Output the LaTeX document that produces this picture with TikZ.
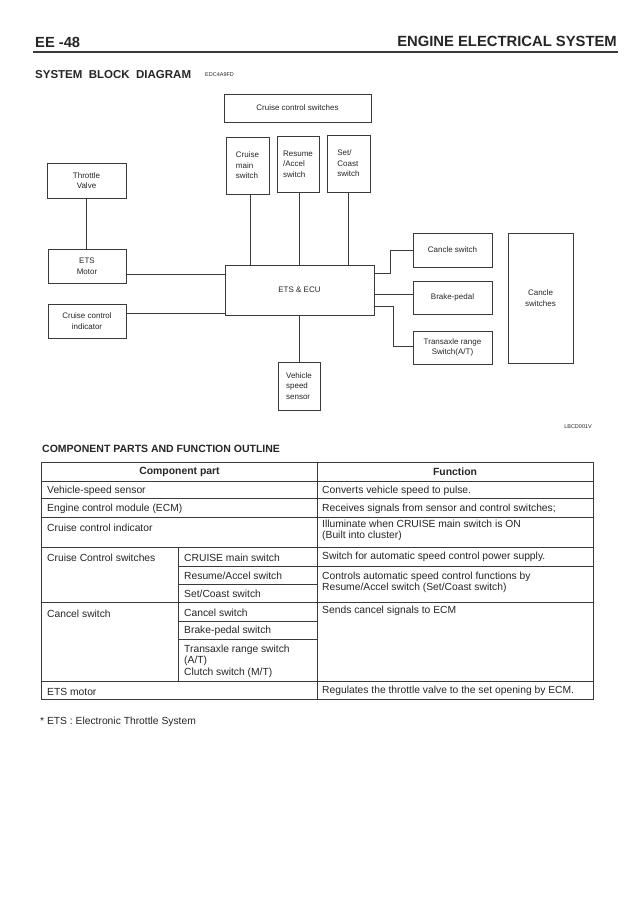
\documentclass[tikz,border=0pt]{standalone}
\usepackage{fontspec}
\setmainfont{Liberation Sans}
\usetikzlibrary{calc}
\definecolor{ink}{HTML}{262626}
\definecolor{rule}{HTML}{3A3A3A}
\tikzset{
  box/.style={draw=rule, line width=0.9pt, inner sep=0pt, align=center, text=ink,
    font={\fontsize{8}{10.5}\selectfont}},
  wire/.style={draw=rule, line width=0.9pt},
  tline/.style={draw=rule, line width=0.8pt},
  ttext/.style={anchor=west, inner sep=0pt, align=left, text=ink,
    font={\fontsize{10.3}{11.5}\selectfont}},
  thead/.style={inner sep=0pt, text=ink, font={\fontsize{10.4}{12}\selectfont\bfseries}},
}
\begin{document}
\begin{tikzpicture}[x=1pt, y=-1pt]
\useasboundingbox[fill=white] (0,0) rectangle (638,902);

% ---------- header ----------
\node[anchor=base west, inner sep=0pt, text=ink, font={\fontsize{14.7}{16}\selectfont\bfseries}] (pg) at (35,47) {EE -48};
\node[anchor=base east, inner sep=0pt, text=ink, font={\fontsize{14.8}{16}\selectfont\bfseries}] (sec) at (617,46) {ENGINE ELECTRICAL SYSTEM};
\draw[rule, line width=2pt] (33,52) -- (618,52);
\node[anchor=base west, inner sep=0pt, text=ink, font={\fontsize{11.5}{14}\selectfont\bfseries}] (sbd) at (35,78) {SYSTEM\ \ BLOCK\ \ DIAGRAM};
\node[anchor=base west, inner sep=0pt, text=ink, font={\fontsize{5.5}{6}\selectfont}] (code) at (205,76) {EDC4A9FD};

% ---------- block diagram ----------
\node[box, minimum width=147pt, minimum height=28pt] (ccs) at (297.5,108) {Cruise control switches};
\node[box, minimum width=43pt, minimum height=57pt, align=left] (cms) at (247.5,165.5) {Cruise\\main\\switch};
\node[box, minimum width=42pt, minimum height=56pt, align=left] (ras) at (298,164) {Resume\\/Accel\\switch};
\node[box, minimum width=43pt, minimum height=57pt, align=left] (scs) at (348.5,163.5) {Set/\\Coast\\switch};
\node[box, minimum width=79pt, minimum height=35pt] (tv) at (86.5,180.5) {Throttle\\Valve};
\node[box, minimum width=78pt, minimum height=34pt] (motor) at (87,266) {ETS\\Motor};
\node[box, minimum width=78pt, minimum height=34pt] (ind) at (87,321) {Cruise control\\indicator};
\node[box, minimum width=149pt, minimum height=50pt] (ecu) at (299.5,290) {ETS \& ECU};
\node[box, minimum width=42pt, minimum height=48pt, align=left] (vss) at (299,386) {Vehicle\\speed\\sensor};
\node[box, minimum width=79pt, minimum height=34pt] (cs) at (452.5,250) {Cancle switch};
\node[box, minimum width=79pt, minimum height=33pt] (bp) at (452.5,297.5) {Brake-pedal};
\node[box, minimum width=79pt, minimum height=33pt] (tr) at (452.5,347.5) {Transaxle range\\Switch(A/T)};
\node[box, minimum width=65pt, minimum height=130pt] (big) at (540.5,298) {Cancle\\switches};
\node[anchor=base east, inner sep=0pt, text=ink, font={\fontsize{5.5}{6}\selectfont}] (lbl) at (592,428) {LBCD001V};

\draw[wire] (tv.south) -- (tv.south |- motor.north);
\draw[wire] ([xshift=2.5pt]cms.south) -- ([xshift=2.5pt]cms.south |- ecu.north);
\draw[wire] ([xshift=1pt]ras.south) -- ([xshift=1pt]ras.south |- ecu.north);
\draw[wire] (scs.south) -- (scs.south |- ecu.north);
\draw[wire] (vss.north |- ecu.south) -- (vss.north);
\draw[wire] ([yshift=-8pt]motor.east) -- ([yshift=-8pt]motor.east -| ecu.west);
\draw[wire] ([yshift=8pt]ind.east) -- ([yshift=8pt]ind.east -| ecu.west);
\draw[wire] ([yshift=17pt]ecu.east) -- ++(16,0) |- (cs.west);
\draw[wire] ([yshift=-4pt]ecu.east) -- ([yshift=-4pt]ecu.east -| bp.west);
\draw[wire] ([yshift=-16pt]ecu.east) -- ++(19,0) |- ([yshift=1.5pt]tr.west);

% ---------- table ----------
\node[anchor=base west, inner sep=0pt, text=ink, font={\fontsize{10.5}{12}\selectfont\bfseries}] (cpt) at (42,452) {COMPONENT\ PARTS\ AND\ FUNCTION\ OUTLINE};

\draw[tline] (41,462) rectangle (593,699);
\foreach \yy in {481,498,517,547,602,681} \draw[tline] (41,\yy) -- (593,\yy);
\draw[tline] (178,566) -- (593,566);
\foreach \yy in {584,621,639} \draw[tline] (178,\yy) -- (317,\yy);
\draw[tline] (317,462) -- (317,699);
\draw[tline] (178,547) -- (178,681);

\node[thead] (h1) at (179.5,472) {Component part};
\node[thead] (h2) at (455,472) {Function};

\node[ttext] (r1a) at (47,490.5) {Vehicle-speed sensor};
\node[ttext] (r1b) at (322,490.5) {Converts vehicle speed to pulse.};
\node[ttext] (r2a) at (47,508.5) {Engine control module (ECM)};
\node[ttext] (r2b) at (322,508.5) {Receives signals from sensor and control switches;};
\node[ttext] (r3a) at (47,527.5) {Cruise control indicator};
\node[ttext] (r3b) at (322,530.5) {Illuminate when CRUISE main switch is ON\\(Built into cluster)};
\node[ttext] (r4a) at (47,557.5) {Cruise Control switches};
\node[ttext] (r4b) at (184,557.5) {CRUISE main switch};
\node[ttext] (r4c) at (322,556.5) {Switch for automatic speed control power supply.};
\node[ttext] (r5b) at (184,575.5) {Resume/Accel switch};
\node[ttext] (r6b) at (184,594) {Set/Coast switch};
\node[ttext] (r5c) at (322,582.5) {Controls automatic speed control functions by\\Resume/Accel switch (Set/Coast switch)};
\node[ttext] (r7a) at (47,613.5) {Cancel switch};
\node[ttext] (r7b) at (184,612.5) {Cancel switch};
\node[ttext] (r7c) at (322,610.5) {Sends cancel signals to ECM};
\node[ttext] (r8b) at (184,630.5) {Brake-pedal switch};
\node[ttext] (r9b) at (184,661) {Transaxle range switch\\(A/T)\\Clutch switch (M/T)};
\node[ttext] (r10a) at (47,691.5) {ETS motor};
\node[ttext] (r10c) at (322,690.5) {Regulates the throttle valve to the set opening by ECM.};

\node[ttext] (foot) at (40,722) {* ETS : Electronic Throttle System};
\end{tikzpicture}
\end{document}
